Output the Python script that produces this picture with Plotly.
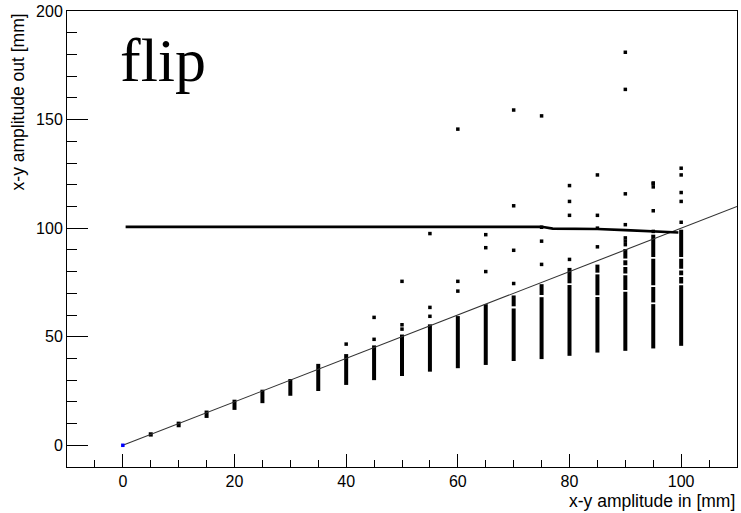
import plotly.graph_objects as go

# Dense columns of output amplitudes, one per input amplitude (mm).
# Each entry: (input amplitude, segment low, segment high)
column_segments = [
    (5, 4.0, 6.0),
    (10, 8.3, 10.9),
    (15, 12.6, 16.0),
    (20, 16.3, 21.0),
    (25, 19.4, 25.6),
    (30, 22.8, 30.5),
    (35, 25.0, 37.5),
    (40, 27.8, 42.0),
    (45, 30.0, 46.0),
    (50, 31.9, 51.0),
    (55, 33.9, 55.7),
    (60, 35.5, 59.5),
    (65, 37.0, 65.0),
    (70, 38.8, 63.0), (70, 64.0, 69.0),
    (75, 39.7, 68.2), (75, 69.2, 74.2),
    (80, 41.2, 73.8), (80, 74.6, 81.7),
    (85, 42.7, 68.3), (85, 69.1, 78.7), (85, 79.5, 83.2),
    (90, 43.5, 70.7), (90, 71.5, 78.3), (90, 79.1, 82.1), (90, 82.9, 85.2), (90, 86.0, 90.4),
    (95, 44.6, 65.0), (95, 65.8, 72.9), (95, 73.7, 85.9), (95, 86.7, 97.0),
    (100, 45.8, 73.7), (100, 74.5, 77.5), (100, 78.3, 80.5), (100, 81.3, 85.9), (100, 86.7, 99.3),
]

# Isolated output points above the dense columns
outlier_x = [40, 45, 45, 50, 50, 50, 55, 55, 55, 60, 60, 60, 65, 65, 65,
             70, 70, 70, 70, 75, 75, 75, 75, 80, 80, 80, 80, 85, 85, 85, 85,
             90, 90, 90, 90, 90, 90, 90, 95, 95, 95, 95, 95,
             100, 100, 100, 100, 100]
outlier_y = [46.6, 48.8, 58.9, 53.5, 55.5, 75.5, 59.4, 63.5, 97.5, 71.0, 75.5, 145.6, 80.0, 91.0, 97.0,
             74.5, 89.8, 110.3, 154.4, 83.3, 94.0, 100.4, 151.7, 85.6, 105.9, 112.3, 119.6, 91.4, 100.0, 105.9, 124.5,
             92.4, 94.0, 95.5, 101.6, 115.8, 163.9, 181.0, 98.5, 108.0, 119.0, 120.5, 120.8,
             102.7, 112.3, 116.4, 124.5, 127.6]

# Origin point
origin_x = [0]
origin_y = [0]

# Flipped-particle output amplitude (thick line)
flip_x = [0.5, 75.0, 77.0, 85.0, 90.0, 95.0, 97.5, 99.5]
flip_y = [100.6, 100.6, 99.8, 99.6, 99.1, 98.5, 98.0, 98.0]

# Reference line: output = input
ref_x = [0, 110]
ref_y = [0, 110]

x_range = [-10, 110]
y_range = [-10, 200]

seg_x, seg_y = [], []
for xv, lo, hi in column_segments:
    seg_x += [xv, xv, None]
    seg_y += [lo, hi, None]

fig = go.Figure()
fig.add_trace(go.Scatter(x=seg_x, y=seg_y, mode="lines",
                         line=dict(color="black", width=4), hoverinfo="skip"))
fig.add_trace(go.Scatter(x=outlier_x, y=outlier_y, mode="markers",
                         marker=dict(symbol="square", size=3.5, color="black")))
fig.add_trace(go.Scatter(x=ref_x, y=ref_y, mode="lines",
                         line=dict(color="#333333", width=1.1)))
fig.add_trace(go.Scatter(x=flip_x, y=flip_y, mode="lines",
                         line=dict(color="black", width=2.6)))
fig.add_trace(go.Scatter(x=origin_x, y=origin_y, mode="markers",
                         marker=dict(symbol="square", size=3.5, color="#0000ff")))

sans = "Liberation Sans, Arial, sans-serif"
axis_font = dict(family=sans, size=16, color="black")
title_font = dict(family=sans, size=17.5, color="black")

fig.update_layout(
    width=741, height=513, autosize=False,
    margin=dict(l=67, r=4, t=11, b=46),
    paper_bgcolor="white", plot_bgcolor="white",
    showlegend=False,
    font=axis_font,
    xaxis=dict(range=x_range, showgrid=False, zeroline=False,
               showline=True, mirror=True, linecolor="black", linewidth=1,
               ticks="inside", ticklen=13, tickwidth=1, tickcolor="black",
               tick0=0, dtick=20, tickfont=axis_font,
               minor=dict(ticks="inside", ticklen=7, dtick=5, tick0=0,
                          tickcolor="black", showgrid=False)),
    yaxis=dict(range=y_range, showgrid=False, zeroline=False,
               showline=True, mirror=True, linecolor="black", linewidth=1,
               ticks="inside", ticklen=21, tickwidth=1, tickcolor="black",
               tick0=0, dtick=50, tickfont=axis_font,
               minor=dict(ticks="inside", ticklen=10, dtick=10, tick0=0,
                          tickcolor="black", showgrid=False)),
    annotations=[
        dict(text="x-y amplitude in [mm]", xref="paper", yref="paper",
             x=1.0, y=(467 - 501) / 456, xanchor="right", yanchor="middle",
             showarrow=False, font=title_font),
        dict(text="x-y amplitude out [mm]", xref="paper", yref="paper",
             x=-0.0733, y=1.0, xanchor="center", yanchor="top", textangle=-90,
             showarrow=False, font=title_font),
        dict(text="flip", xref="paper", yref="paper",
             x=(118 - 67) / 670, y=(467 - 60) / 456, xanchor="left", yanchor="middle",
             showarrow=False, font=dict(family="Liberation Serif, Times New Roman, serif", size=62, color="black")),
    ],
)

fig.write_html("out.html")
